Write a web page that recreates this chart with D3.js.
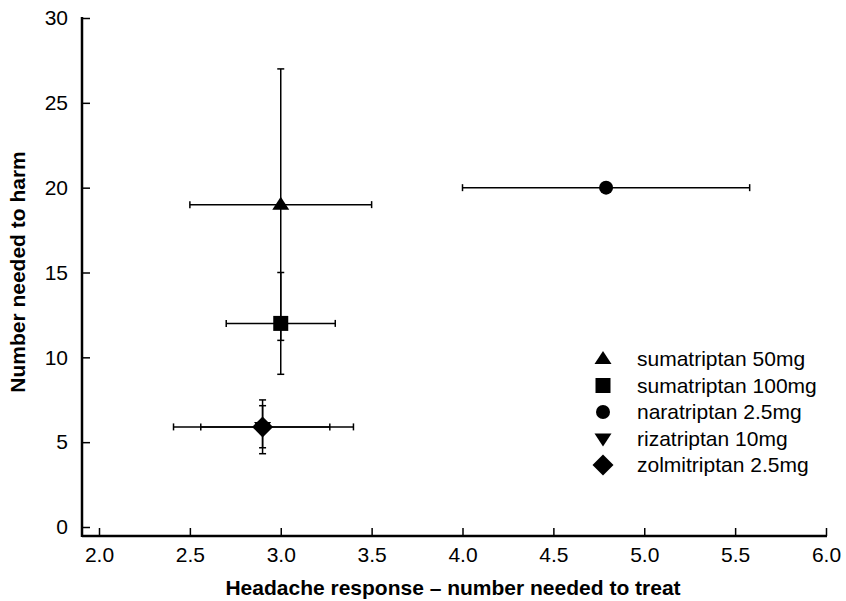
<!DOCTYPE html>
<html>
<head>
<meta charset="utf-8">
<title>Triptans NNT vs NNH</title>
<script src="https://cdn.jsdelivr.net/npm/d3@7"></script>
<style>
	body { margin: 0; background: white; }
	svg { font-family: "Liberation Sans", Arial, Helvetica, sans-serif; }
	.axis text { font-size: 21px; fill: black; }
	.axis line { stroke: black; stroke-width: 1.5px; }
	.axis-title { font-size: 21px; font-weight: bold; fill: black; }
	.err { stroke: black; stroke-width: 1.5px; fill: none; }
	.legend text { font-size: 21px; fill: black; }
</style>
</head>
<body>
<svg id="chart" width="846" height="601"></svg>
<script>
	// data
	var drugs = [ "sumatriptan 50mg", "sumatriptan 100mg", "naratriptan 2.5mg", "rizatriptan 10mg", "zolmitriptan 2.5mg" ];
	var shapes = [ "up", "square", "circle", "down", "diamond" ];
	var nnt     = [ 3.0, 3.0, 4.79, 2.9, 2.9 ];
	var nntLow  = [ 2.5, 2.7, 4.0, 2.41, 2.56 ];
	var nntHigh = [ 3.5, 3.3, 5.58, 3.4, 3.27 ];
	var nnh     = [ 19, 12, 20, 5.9, 5.9 ];
	var nnhLow  = [ 9, 11, null, 4.32, 4.67 ];
	var nnhHigh = [ 27, 15, null, 7.49, 7.15 ];
	var xTicks = [ 2.0, 2.5, 3.0, 3.5, 4.0, 4.5, 5.0, 5.5, 6.0 ];
	var yTicks = [ 0, 5, 10, 15, 20, 25, 30 ];

	var axisX = 82, axisY = 536;   // where the two axis lines sit
	var svg = d3.select( "#chart" );

	var x = d3.scaleLinear().domain( [ 2, 6 ] ).range( [ 99, 826 ] );
	var y = d3.scaleLinear().domain( [ 0, 30 ] ).range( [ 527, 18 ] );

	var pts = drugs.map( function( d, i ) {
		return { name: d, shape: shapes[i], x: nnt[i], xl: nntLow[i], xh: nntHigh[i],
			y: nnh[i], yl: nnhLow[i], yh: nnhHigh[i] };
	} );

	// marker paths, centred on 0,0
	marker = function( s ) {
		if( s == "up" ) return "M0,-8L8.5,5L-8.5,5Z";
		if( s == "down" ) return "M0,8L8.5,-5L-8.5,-5Z";
		if( s == "square" ) return "M-7.5,-7.5H7.5V7.5H-7.5Z";
		if( s == "diamond" ) return "M0,-10.5L10.5,0L0,10.5L-10.5,0Z";
		return d3.arc()( { innerRadius: 0, outerRadius: 7, startAngle: 0, endAngle: 2 * Math.PI } );
	};

	// x axis
	var gx = svg.append( "g" ).attr( "class", "axis" )
		.attr( "transform", "translate(0," + axisY + ")" )
		.call( d3.axisBottom( x ).tickValues( xTicks ).tickFormat( d3.format( ".1f" ) )
			.tickSize( -8 ).tickSizeOuter( 0 ).tickPadding( 11 ) );
	gx.select( ".domain" ).remove();
	gx.append( "line" ).attr( "x1", axisX ).attr( "x2", x( 6 ) + 1 )
		.style( "stroke-width", "2.5px" );

	// y axis
	var gy = svg.append( "g" ).attr( "class", "axis" )
		.attr( "transform", "translate(" + axisX + ",0)" )
		.call( d3.axisLeft( y ).tickValues( yTicks )
			.tickSize( -8 ).tickSizeOuter( 0 ).tickPadding( 14 ) );
	gy.select( ".domain" ).remove();
	gy.append( "line" ).attr( "y1", y( 30 ) - 1 ).attr( "y2", axisY + 1 )
		.style( "stroke-width", "2.5px" );

	svg.append( "text" ).attr( "class", "axis-title" )
		.attr( "x", 453 ).attr( "y", 595 ).attr( "text-anchor", "middle" )
		.text( "Headache response – number needed to treat" );
	svg.append( "text" ).attr( "class", "axis-title" )
		.attr( "transform", "translate(25,272) rotate(-90)" ).attr( "text-anchor", "middle" )
		.text( "Number needed to harm" );

	// error bars
	var cap = 3.5;
	var bars = svg.append( "g" );
	pts.forEach( function( d ) {
		bars.append( "line" ).attr( "class", "err" )
			.attr( "x1", x( d.xl ) ).attr( "x2", x( d.xh ) ).attr( "y1", y( d.y ) ).attr( "y2", y( d.y ) );
		[ d.xl, d.xh ].forEach( function( v ) {
			bars.append( "line" ).attr( "class", "err" )
				.attr( "x1", x( v ) ).attr( "x2", x( v ) ).attr( "y1", y( d.y ) - cap ).attr( "y2", y( d.y ) + cap );
		} );
		if( d.yl != null ) {
			bars.append( "line" ).attr( "class", "err" )
				.attr( "x1", x( d.x ) ).attr( "x2", x( d.x ) ).attr( "y1", y( d.yl ) ).attr( "y2", y( d.yh ) );
			[ d.yl, d.yh ].forEach( function( v ) {
				bars.append( "line" ).attr( "class", "err" )
					.attr( "x1", x( d.x ) - cap ).attr( "x2", x( d.x ) + cap ).attr( "y1", y( v ) ).attr( "y2", y( v ) );
			} );
		}
	} );

	svg.append( "g" ).selectAll( "path" )
		.data( pts ).enter().append( "path" )
			.attr( "d", d => marker( d.shape ) )
			.attr( "transform", d => "translate(" + x( d.x ) + "," + y( d.y ) + ")" )
			.attr( "fill", "black" );

	// legend
	var leg = svg.append( "g" ).attr( "class", "legend" )
		.selectAll( "g" ).data( pts ).enter().append( "g" )
			.attr( "transform", ( d, i ) => "translate(603," + ( 359 + i * 26.5 ) + ")" );
	leg.append( "path" ).attr( "d", d => marker( d.shape ) ).attr( "fill", "black" );
	leg.append( "text" ).attr( "x", 34 ).attr( "dy", "0.35em" ).text( d => d.name );
</script>
</body>
</html>
